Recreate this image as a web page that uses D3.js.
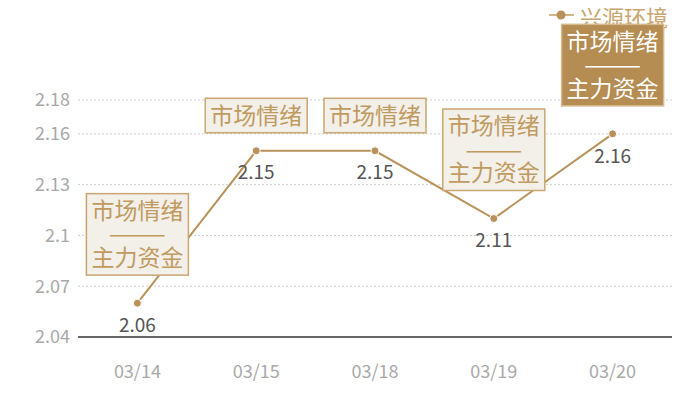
<!DOCTYPE html>
<html>
<head>
<meta charset="utf-8">
<script src="https://cdn.jsdelivr.net/npm/d3@7"></script>
<style>
  body { margin: 0; background: #fff; }
  text { font-family: "Noto Sans CJK SC", "Noto Sans", sans-serif; }
</style>
</head>
<body>
<svg width="700" height="400"></svg>
<script>
const dates = ["03/14", "03/15", "03/18", "03/19", "03/20"];
const values = [2.06, 2.15, 2.15, 2.11, 2.16];
const notes = [
  ["市场情绪", "———", "主力资金"],
  ["市场情绪"],
  ["市场情绪"],
  ["市场情绪", "———", "主力资金"],
  ["市场情绪", "———", "主力资金"]
];
const highlighted = [false, false, false, false, true];
const yTicks = [2.04, 2.07, 2.1, 2.13, 2.16, 2.18];
const seriesName = "兴源环境";

const gold = "#b8925a";
const svg = d3.select("svg");

const x = d3.scaleBand().domain(dates).range([78, 672]);
const y = d3.scaleLinear().domain([2.04, 2.18]).range([337, 100]);
const cx = d => x(d) + x.bandwidth() / 2;

// grid lines
svg.append("g").selectAll("line")
  .data(yTicks.slice(1))
  .enter().append("line")
  .attr("x1", 78).attr("x2", 672)
  .attr("y1", d => y(d)).attr("y2", d => y(d))
  .attr("stroke", "#cfcfcf")
  .attr("stroke-dasharray", "2,2");

// y labels
svg.append("g").selectAll("text")
  .data(yTicks)
  .enter().append("text")
  .attr("x", 70)
  .attr("y", d => y(d))
  .attr("dy", "0.35em")
  .attr("text-anchor", "end")
  .attr("font-size", "18px")
  .attr("fill", "#a9a9a9")
  .text(d => d);

// x axis
svg.append("line")
  .attr("x1", 78).attr("x2", 672)
  .attr("y1", y(2.04)).attr("y2", y(2.04))
  .attr("stroke", "#333").attr("stroke-width", 1.5);

svg.append("g").selectAll("text")
  .data(dates)
  .enter().append("text")
  .attr("x", d => cx(d))
  .attr("y", 372)
  .attr("dy", "0.35em")
  .attr("text-anchor", "middle")
  .attr("font-size", "18px")
  .attr("fill", "#a9a9a9")
  .text(d => d);

// line + points
const line = d3.line()
  .x((d, i) => cx(dates[i]))
  .y(d => y(d));

svg.append("path")
  .datum(values)
  .attr("d", line)
  .attr("fill", "none")
  .attr("stroke", gold)
  .attr("stroke-width", 2);

svg.append("g").selectAll("circle")
  .data(values)
  .enter().append("circle")
  .attr("cx", (d, i) => cx(dates[i]))
  .attr("cy", d => y(d))
  .attr("r", 4)
  .attr("fill", gold)
  .attr("stroke", "#fff")
  .attr("stroke-width", 1);

// value labels
svg.append("g").selectAll("text")
  .data(values)
  .enter().append("text")
  .attr("x", (d, i) => cx(dates[i]))
  .attr("y", d => y(d) + 22)
  .attr("dy", "0.35em")
  .attr("text-anchor", "middle")
  .attr("font-size", "19px")
  .attr("fill", "#555")
  .text(d => d);

// legend
const lg = svg.append("g");
lg.append("line")
  .attr("x1", 549).attr("x2", 574).attr("y1", 15).attr("y2", 15)
  .attr("stroke", "#d2b587").attr("stroke-width", 2);
lg.append("circle")
  .attr("cx", 561).attr("cy", 15).attr("r", 4.5)
  .attr("fill", gold);
lg.append("text")
  .attr("x", 580).attr("y", 18)
  .attr("dy", "0.35em")
  .attr("font-size", "22px")
  .attr("fill", "#c9a56f")
  .text(seriesName);

// note boxes
const lineH = 23.5;
notes.forEach((lines, i) => {
  const px = cx(dates[i]);
  const py = y(values[i]);
  const hi = highlighted[i];
  const h = lines.length * lineH + 11;
  const gap = lines.length > 1 ? 28 : 18;
  const top = py - gap - h;
  const g = svg.append("g");
  const rect = g.append("rect")
    .attr("y", top)
    .attr("height", h)
    .attr("fill", hi ? "#b58c52" : "#f3efe9")
    .attr("stroke", hi ? "#d4b98e" : "#caa670")
    .attr("stroke-width", 1.5);
  let w = 0;
  lines.forEach((s, k) => {
    const t = g.append("text")
      .attr("x", px)
      .attr("y", top + 5.5 + lineH * (k + 0.5))
      .attr("dy", "0.35em")
      .attr("text-anchor", "middle")
      .attr("font-size", "23px")
      .attr("fill", hi ? "#fff" : "#c09a5f")
      .text(s);
    w = Math.max(w, t.node().getComputedTextLength());
  });
  rect.attr("x", px - w / 2 - 5).attr("width", w + 10);
});
</script>
</body>
</html>
